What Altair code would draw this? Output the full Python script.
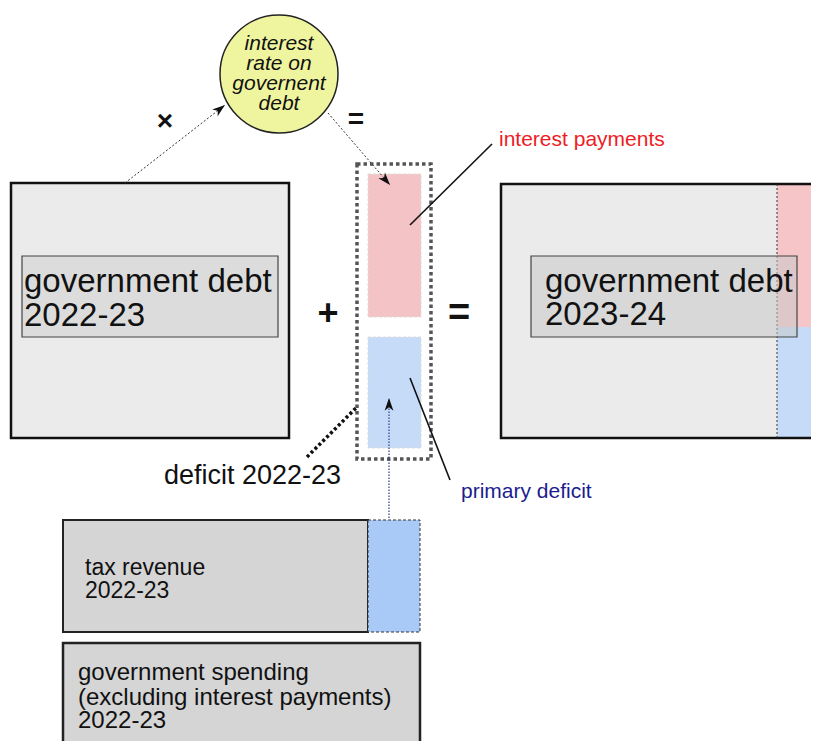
import math
import altair as alt
import pandas as pd

# ---------------- data (diagram coordinates) ----------------
# first group of boxes: government debt 2022-23 and 2023-24
box1_name = ["debt 2022-23", "debt 2022-23 label", "debt 2023-24", "interest part", "primary part", "debt 2023-24 frame"]
box1_x0 = [11, 22, 501, 777, 777, 501]
box1_x1 = [289, 278, 830, 830, 830, 830]
box1_y0 = [183, 256, 184, 184, 327, 184]
box1_y1 = [438, 337, 438, 327, 438, 438]
box1_fill = ["#ebebeb", "#dcdcdc", "#ebebeb", "#f6c5c8", "#c6dbf7", "transparent"]
box1_stroke = ["#111111", "#444444", "transparent", "transparent", "transparent", "#111111"]
box1_sw = [2.5, 1.2, 0, 0, 0, 2.5]
box1_op = [1, 1, 1, 1, 1, 1]

# second group: label of 2023-24, tax revenue and spending
box2_name = ["debt 2023-24 label", "tax revenue", "spending"]
box2_x0 = [531, 63, 63]
box2_x1 = [797, 368, 420]
box2_y0 = [256, 520, 643]
box2_y1 = [337, 632, 770]
box2_fill = ["#c9c9c9", "#d5d5d5", "#d5d5d5"]
box2_stroke = ["#444444", "#222222", "#222222"]
box2_sw = [1.2, 2.0, 2.5]
box2_op = [0.55, 1, 1]

# dashed boxes: deficit parts and primary deficit slice of revenue
box3_name = ["interest payments", "primary deficit", "revenue gap"]
box3_x0 = [368, 368, 368]
box3_x1 = [421, 421, 420]
box3_y0 = [174, 337, 520]
box3_y1 = [317, 448, 632]
box3_fill = ["#f4c3c5", "#c5dbf8", "#a9c9f7"]
box3_stroke = ["#dddddd", "#dddddd", "#333333"]
box3_sw = [1.0, 1.0, 1.0]
box3_op = [1, 1, 1]

# dotted frame of the deficit column
frame_x0 = [357]
frame_x1 = [431]
frame_y0 = [164]
frame_y1 = [459]

# interest-rate circle
circle_x = [279]
circle_y = [74]
circle_d = [118]
circle_lines = ["interest", "rate on", "governent", "debt"]
circle_line_y = [50, 70, 90, 110]

# arrows (x1, y1) -> (x2, y2) with head at end
arrow_x1 = [125, 328]
arrow_y1 = [183, 113]
arrow_x2 = [225, 390]
arrow_y2 = [105, 185]
blue_arrow_x1 = [389]
blue_arrow_y1 = [518]
blue_arrow_x2 = [389]
blue_arrow_y2 = [398]

# leader lines
leader_x1 = [410, 410]
leader_y1 = [225, 378]
leader_x2 = [492, 450]
leader_y2 = [144, 480]

# thick dotted pointer from "deficit 2022-23"
pointer_x1 = [307]
pointer_y1 = [457]
pointer_x2 = [357]
pointer_y2 = [407]

# divider inside debt 2023-24
divider_x = [777]
divider_y1 = [184]
divider_y2 = [438]

# labels
label_text = ["government debt", "2022-23", "government debt", "2023-24",
              "interest payments", "primary deficit", "deficit 2022-23",
              "tax revenue", "2022-23",
              "government spending", "(excluding interest payments)", "2022-23"]
label_x = [24, 24, 545, 545, 499, 461, 164, 85, 85, 78, 78, 78]
label_y = [292, 326, 292, 325, 146, 498, 484, 575, 598, 680, 705, 728]
label_size = [33, 33, 33, 33, 21, 21, 27, 23, 23, 24, 24, 24]
label_color = ["#111111"] * 4 + ["#ee1c25", "#1c1c8f"] + ["#111111"] * 6

# operator symbols
op_text = ["×", "=", "+", "="]
op_x = [165, 356, 328, 459]
op_y = [122, 120, 314, 314]
op_size = [28, 28, 36, 38]

# ---------------- scales ----------------
XS = alt.Scale(domain=[8, 811], nice=False, zero=False)
YS = alt.Scale(domain=[8, 741], nice=False, zero=False, reverse=True)


def X(f):
    return alt.X(f, type="quantitative", scale=XS, axis=None)


def Y(f):
    return alt.Y(f, type="quantitative", scale=YS, axis=None)


def rect_layer(x0, x1, y0, y1, fill, stroke, sw, op, dash=None):
    df = pd.DataFrame({"x0": x0, "x1": x1, "y0": y0, "y1": y1, "fill": fill,
                       "stroke": stroke, "sw": sw, "op": op, "order": list(range(len(x0)))})
    kw = dict(clip=True)
    if dash is not None:
        kw["strokeDash"] = dash
    return alt.Chart(df).mark_rect(**kw).encode(
        x=X("x0"), x2=alt.X2("x1"), y=Y("y0"), y2=alt.Y2("y1"),
        fill=alt.Fill("fill:N", scale=None),
        stroke=alt.Stroke("stroke:N", scale=None),
        strokeWidth=alt.StrokeWidth("sw:Q", scale=None),
        fillOpacity=alt.FillOpacity("op:Q", scale=None),
        order=alt.Order("order:Q"),
    )


def rule_layer(x1, y1, x2, y2, color, width, dash=None):
    df = pd.DataFrame({"x1": x1, "y1": y1, "x2": x2, "y2": y2})
    kw = dict(color=color, strokeWidth=width, clip=True)
    if dash is not None:
        kw["strokeDash"] = dash
    return alt.Chart(df).mark_rule(**kw).encode(
        x=X("x1"), y=Y("y1"), x2=alt.X2("x2"), y2=alt.Y2("y2"))


def head_layer(x1, y1, x2, y2):
    ang = [math.degrees(math.atan2(b - a, -(d - c))) % 360
           for a, b, c, d in zip(x1, x2, y1, y2)]
    df = pd.DataFrame({"x": x2, "y": y2, "ang": ang})
    return alt.Chart(df).mark_point(
        shape="M0,0 L0.55,1.6 L0,1.15 L-0.55,1.6 Z", filled=True,
        color="#111111", size=256, opacity=1).encode(
        x=X("x"), y=Y("y"), angle=alt.Angle("ang:Q", scale=None))


rects1 = rect_layer(box1_x0, box1_x1, box1_y0, box1_y1, box1_fill, box1_stroke, box1_sw, box1_op)
divider = rule_layer(divider_x, divider_y1, divider_x, divider_y2, "#333333", 1, [2, 2])
rects2 = rect_layer(box2_x0, box2_x1, box2_y0, box2_y1, box2_fill, box2_stroke, box2_sw, box2_op)
rects3 = rect_layer(box3_x0, box3_x1, box3_y0, box3_y1, box3_fill, box3_stroke, box3_sw, box3_op, [3, 2])
frame = rect_layer(frame_x0, frame_x1, frame_y0, frame_y1, ["transparent"], ["#555555"], [3.5], [1], [3.5, 3])

circle = alt.Chart(pd.DataFrame({"x": circle_x, "y": circle_y, "d": circle_d})).mark_point(
    shape="circle", filled=True, fill="#eff59f", stroke="#222222", strokeWidth=1.5,
    opacity=1, fillOpacity=1, strokeOpacity=1, size=circle_d[0] ** 2).encode(x=X("x"), y=Y("y"))

circle_text = alt.Chart(pd.DataFrame({"t": circle_lines, "x": circle_x * 4, "y": circle_line_y})).mark_text(
    font="Liberation Sans", fontStyle="italic", fontSize=21, align="center",
    baseline="alphabetic", color="#111111").encode(x=X("x"), y=Y("y"), text="t:N")

arrows = rule_layer(arrow_x1, arrow_y1, arrow_x2, arrow_y2, "#333333", 1, [2, 2])
arrow_heads = head_layer(arrow_x1, arrow_y1, arrow_x2, arrow_y2)
blue_arrow = rule_layer(blue_arrow_x1, blue_arrow_y1, blue_arrow_x2, blue_arrow_y2, "#2a3c8c", 1.2, [1.5, 1.5])
blue_head = head_layer(blue_arrow_x1, blue_arrow_y1, blue_arrow_x2, blue_arrow_y2)
leaders = rule_layer(leader_x1, leader_y1, leader_x2, leader_y2, "#111111", 1.6)
pointer = rule_layer(pointer_x1, pointer_y1, pointer_x2, pointer_y2, "#111111", 3.5, [3, 2.5])

labels = alt.Chart(pd.DataFrame({"t": label_text, "x": label_x, "y": label_y,
                                 "s": label_size, "c": label_color})).mark_text(
    font="Liberation Sans", align="left", baseline="alphabetic").encode(
    x=X("x"), y=Y("y"), text="t:N",
    size=alt.Size("s:Q", scale=None), color=alt.Color("c:N", scale=None))

ops = alt.Chart(pd.DataFrame({"t": op_text, "x": op_x, "y": op_y, "s": op_size})).mark_text(
    font="Liberation Sans", fontWeight="bold", align="center", baseline="middle",
    color="#111111").encode(x=X("x"), y=Y("y"), text="t:N", size=alt.Size("s:Q", scale=None))

chart = alt.layer(
    rects1, divider, rects2, rects3, frame, circle, circle_text,
    arrows, arrow_heads, blue_arrow, blue_head, leaders, pointer, labels, ops,
).properties(
    width=803, height=733, padding=0,
    autosize=alt.AutoSizeParams(type="fit", contains="padding"),
).configure_view(stroke=None)

chart.save("out.html", embed_options={"renderer": "svg", "actions": False})
